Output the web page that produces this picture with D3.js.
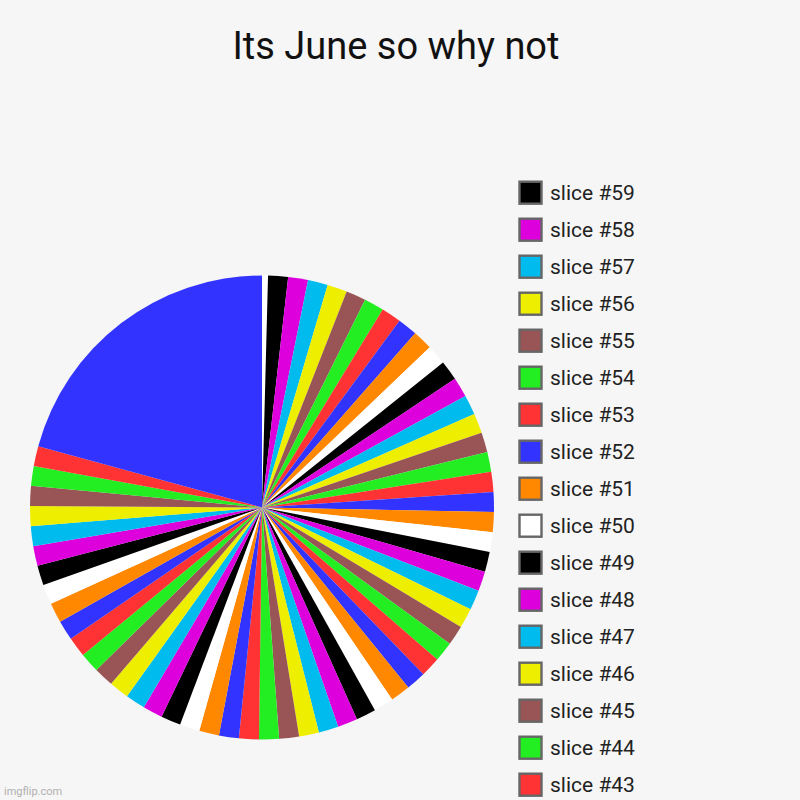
<!DOCTYPE html>
<html>
<head>
<meta charset="utf-8">
<script src="https://cdn.jsdelivr.net/npm/d3@7"></script>
<style>
  html, body { margin: 0; padding: 0; background: #f6f6f6; }
  svg { display: block; }
</style>
</head>
<body>
<svg id="chart" width="800" height="800"></svg>
<script>
const chartTitle = "Its June so why not";
const watermark = "imgflip.com";

// slices in drawing order (clockwise from 12 o'clock); first is an unnamed white sliver
const sliceLabels = [
  "",
  "slice #59", "slice #58", "slice #57", "slice #56", "slice #55", "slice #54", "slice #53", "slice #52", "slice #51", "slice #50",
  "slice #49", "slice #48", "slice #47", "slice #46", "slice #45", "slice #44", "slice #43", "slice #42", "slice #41", "slice #40",
  "slice #39", "slice #38", "slice #37", "slice #36", "slice #35", "slice #34", "slice #33", "slice #32", "slice #31", "slice #30",
  "slice #29", "slice #28", "slice #27", "slice #26", "slice #25", "slice #24", "slice #23", "slice #22", "slice #21", "slice #20",
  "slice #19", "slice #18", "slice #17", "slice #16", "slice #15", "slice #14", "slice #13", "slice #12", "slice #11", "slice #10",
  "slice #9", "slice #8", "slice #7", "slice #6", "slice #5", "slice #4", "slice #3", "slice #2"
];
const sliceValues = [
  0.3,
  1, 1, 1, 1, 1, 1, 1, 1, 1, 1,
  1, 1, 1, 1, 1, 1, 1, 1, 1, 1,
  1, 1, 1, 1, 1, 1, 1, 1, 1, 1,
  1, 1, 1, 1, 1, 1, 1, 1, 1, 1,
  1, 1, 1, 1, 1, 1, 1, 1, 1, 1,
  1, 1, 1, 1, 1, 1, 1, 15
];
// colour cycle by slice position
const palette = ["#ffffff", "#000000", "#dd00dd", "#00bbee", "#eeee00", "#995555", "#22ee22", "#ff3333", "#3333ff", "#ff8800"];

const data = sliceLabels.map((label, i) => ({ label, value: sliceValues[i], color: palette[i % palette.length] }));

const W = 800, H = 800;
const svg = d3.select("#chart");
svg.append("rect").attr("width", W).attr("height", H).attr("fill", "#f6f6f6");

svg.append("text")
  .attr("x", 396).attr("y", 59)
  .attr("text-anchor", "middle")
  .attr("font-family", "Roboto, sans-serif")
  .attr("font-size", 38)
  .attr("fill", "#111")
  .text(chartTitle);

const cx = 262, cy = 507.5, radius = 232;
const pie = d3.pie().sort(null).value(d => d.value).startAngle(0).endAngle(2 * Math.PI);
const arc = d3.arc().innerRadius(0).outerRadius(radius);

svg.append("g")
  .attr("transform", `translate(${cx},${cy})`)
  .selectAll("path")
  .data(pie(data))
  .join("path")
  .attr("d", arc)
  .attr("fill", d => d.data.color);

// legend (only the entries that fit in the frame, as in the reference)
const legendY = d3.scaleLinear().domain([0, 1]).range([192.5, 229.5]);
const legendData = data.filter(d => d.label !== "")
  .filter((d, i) => legendY(i) + 12 <= H);
const legend = svg.append("g");
const item = legend.selectAll("g")
  .data(legendData)
  .join("g")
  .attr("transform", (d, i) => `translate(0,${legendY(i)})`);
item.append("rect")
  .attr("x", 519.5).attr("y", -10.8)
  .attr("width", 22).attr("height", 22)
  .attr("fill", d => d.color)
  .attr("stroke", "#666")
  .attr("stroke-width", 2.4);
item.append("text")
  .attr("x", 550).attr("y", 7)
  .attr("font-family", "Roboto, sans-serif")
  .attr("font-size", 21)
  .attr("fill", "#222")
  .text(d => d.label);

svg.append("text")
  .attr("x", 4).attr("y", 795)
  .attr("font-family", "Roboto, sans-serif")
  .attr("font-size", 11)
  .attr("fill", "#b0b0b0")
  .text(watermark);
</script>
</body>
</html>
